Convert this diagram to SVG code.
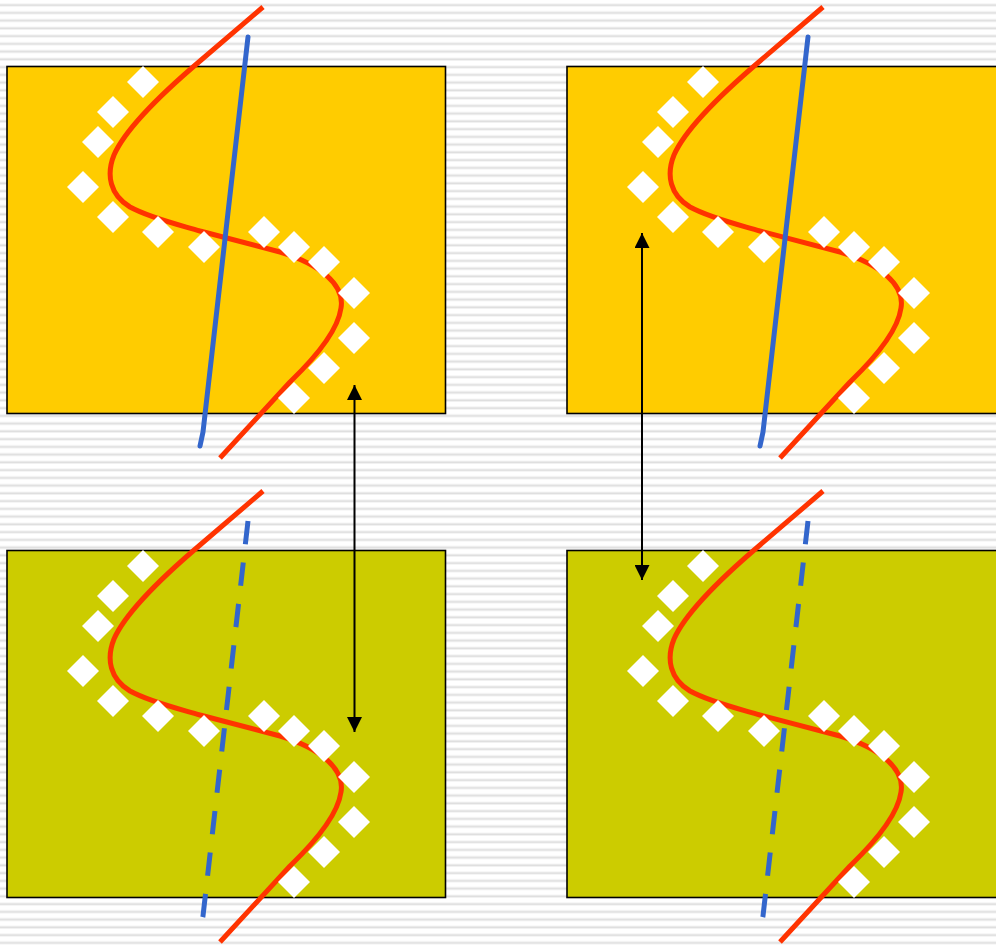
<svg xmlns="http://www.w3.org/2000/svg" xmlns:xlink="http://www.w3.org/1999/xlink" width="996" height="947" viewBox="0 0 996 947">
  <style>
    .box { stroke: #000; stroke-width: 1.6; }
    .top { fill: #FFCC00; }
    .bot { fill: #CCCC00; }
    .red { fill: none; stroke: #FF3300; stroke-width: 5; stroke-linecap: butt; stroke-linejoin: round; }
    .blue { fill: none; stroke: #3366CC; stroke-width: 5; stroke-linecap: round; stroke-linejoin: round; }
    .dash { stroke-dasharray: 23.4 18.3; stroke-linecap: butt; }
    .arrow { fill: none; stroke: #000; stroke-width: 2; }
  </style>
  <defs>
    <pattern id="stripes" x="0" y="0" width="8" height="7.75" patternUnits="userSpaceOnUse">
      <rect x="0" y="0" width="8" height="7.75" fill="#ffffff"/>
      <rect x="0" y="3.6" width="8" height="0.7" fill="#ececec"/>
      <rect x="0" y="4.3" width="8" height="1.6" fill="#dedede"/>
      <rect x="0" y="5.9" width="8" height="0.6" fill="#ececec"/>
    </pattern>
    <path id="dm" d="M0,-16 L16,0 L0,16 L-16,0 Z" fill="#ffffff"/>
    <g id="diamonds">
      <use xlink:href="#dm" x="143" y="82"/>
      <use xlink:href="#dm" x="113" y="112"/>
      <use xlink:href="#dm" x="98" y="142"/>
      <use xlink:href="#dm" x="83" y="187"/>
      <use xlink:href="#dm" x="113" y="217"/>
      <use xlink:href="#dm" x="158" y="232"/>
      <use xlink:href="#dm" x="204" y="247"/>
      <use xlink:href="#dm" x="264" y="232"/>
      <use xlink:href="#dm" x="294" y="247"/>
      <use xlink:href="#dm" x="324" y="262"/>
      <use xlink:href="#dm" x="354" y="293"/>
      <use xlink:href="#dm" x="354" y="338"/>
      <use xlink:href="#dm" x="324" y="368"/>
      <use xlink:href="#dm" x="294" y="398"/>
    </g>
    <path id="curve" d="M263,7 L200,61 C160,95 125,130 114,155 C106,175 110,195 130,207 C150,218 180,225 200,231 L280,252 C320,264 345,285 341,308 C338,330 318,355 290,382 L220,458"/>
    <path id="line" d="M248,37 L203,432 L200,446"/>
    <marker id="ah" viewBox="0 0 15 15" refX="15" refY="7.5" markerWidth="15" markerHeight="15" markerUnits="userSpaceOnUse" orient="auto-start-reverse">
      <path d="M0,0 L15,7.5 L0,15 Z" fill="#000"/>
    </marker>
  </defs>

  <rect x="0" y="0" width="996" height="947" fill="url(#stripes)"/>

  <g id="panel-top-left">
    <rect class="box top" x="7" y="66.5" width="438.5" height="347"/>
    <use xlink:href="#curve" class="red"/>
    <use xlink:href="#diamonds"/>
    <use xlink:href="#line" class="blue"/>
  </g>

  <g id="panel-top-right" transform="translate(560,0)">
    <rect class="box top" x="7" y="66.5" width="445" height="347"/>
    <use xlink:href="#curve" class="red"/>
    <use xlink:href="#diamonds"/>
    <use xlink:href="#line" class="blue"/>
  </g>

  <g id="panel-bottom-left" transform="translate(0,484)">
    <rect class="box bot" x="7" y="66.5" width="438.5" height="347"/>
    <use xlink:href="#curve" class="red"/>
    <use xlink:href="#diamonds"/>
    <use xlink:href="#line" class="blue dash"/>
  </g>

  <g id="panel-bottom-right" transform="translate(560,484)">
    <rect class="box bot" x="7" y="66.5" width="445" height="347"/>
    <use xlink:href="#curve" class="red"/>
    <use xlink:href="#diamonds"/>
    <use xlink:href="#line" class="blue dash"/>
  </g>

  <g id="connectors">
    <path class="arrow" d="M354.5,385 L354.5,732" marker-start="url(#ah)" marker-end="url(#ah)"/>
    <path class="arrow" d="M642,233 L642,580" marker-start="url(#ah)" marker-end="url(#ah)"/>
  </g>
</svg>
